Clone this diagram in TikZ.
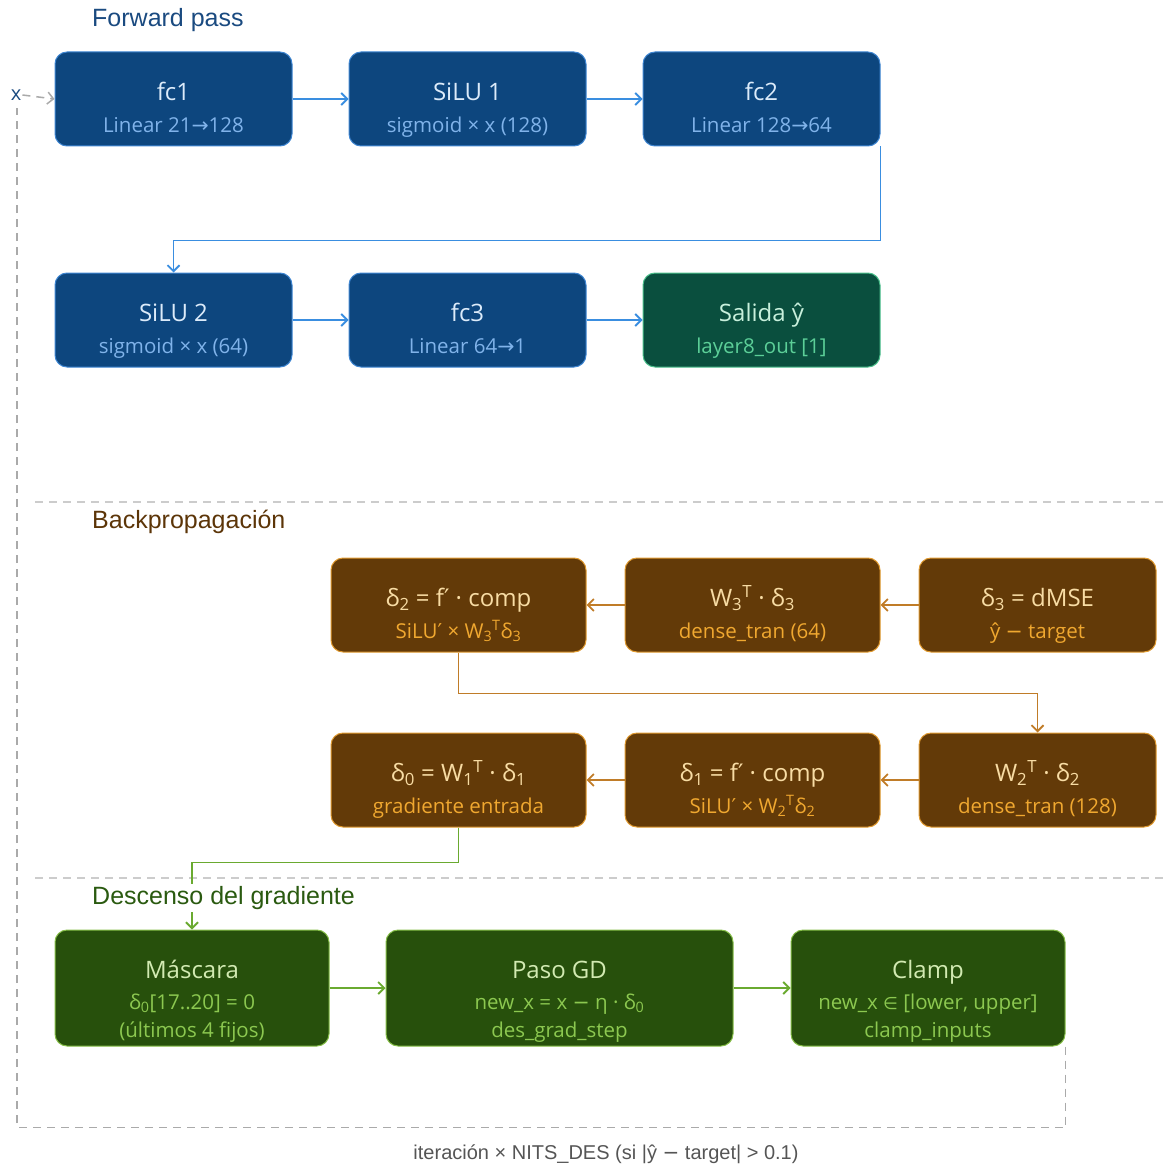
\documentclass[tikz,border=0pt]{standalone}
\usepackage{fontspec}
\setmainfont{Open Sans}
\newfontfamily\labelfont{Liberation Sans}
\newfontfamily\symf{DejaVu Sans}
\usetikzlibrary{arrows.meta,calc}

% palette
\definecolor{fwdfill}{HTML}{0D467E}
\definecolor{fwdline}{HTML}{3F86D2}
\definecolor{fwdtitle}{HTML}{DCEBFA}
\definecolor{fwdsub}{HTML}{80B3EA}
\definecolor{fwdarrow}{HTML}{3A8EE0}
\definecolor{outfill}{HTML}{0A4F3E}
\definecolor{outline}{HTML}{4CC08C}
\definecolor{outtitle}{HTML}{C8F0DC}
\definecolor{outsub}{HTML}{5CCF98}
\definecolor{bckfill}{HTML}{633A08}
\definecolor{bckline}{HTML}{E09A30}
\definecolor{bcktitle}{HTML}{F8DCA4}
\definecolor{bcksub}{HTML}{F0A830}
\definecolor{bckarrow}{HTML}{C07C28}
\definecolor{gdfill}{HTML}{27500C}
\definecolor{gdline}{HTML}{86BE48}
\definecolor{gdtitle}{HTML}{D2EAB2}
\definecolor{gdsub}{HTML}{8CC850}
\definecolor{gdarrow}{HTML}{6AAA30}
\definecolor{fwdhead}{HTML}{1A4A80}
\definecolor{bckhead}{HTML}{5C3508}
\definecolor{gdhead}{HTML}{2A5A10}
\definecolor{loopgray}{HTML}{AAAAAA}
\definecolor{sepgray}{HTML}{CCCCCC}
\definecolor{notegray}{HTML}{555555}

% text helpers
\newcommand\ra{{\symf →}}
\newcommand\pr{{\symf ′}}
\newcommand\mn{{\symf −}}
\newcommand\inset{{\symf\fontsize{17}{20}\selectfont ∈}}
\newcommand\sbs[1]{\textsubscript{#1}}
\newcommand\sps[1]{\textsuperscript{#1}}
% title line carries a tall strut so the text block sits below the box centre
\newcommand\ttl[1]{{\fontsize{24}{32}\selectfont\rule{0pt}{41pt}#1}}
\newcommand\gttl[1]{{\fontsize{24}{28}\selectfont\rule{0pt}{45.5pt}#1}}
\newcommand\sbt[1]{{\subc\fontsize{20.5}{32}\selectfont #1}}
\newcommand\sbtend[1]{{\subc\fontsize{20.5}{32}\selectfont\rule[-6pt]{0pt}{6pt}#1}}
\def\subc{}

\begin{document}
\begin{tikzpicture}[x=1pt,y=-1pt,
  box/.style={rounded corners=12pt, line width=1pt, align=center,
    inner sep=0pt, minimum height=94pt, font=\fontsize{20.5}{32}\selectfont},
  fwd/.style={box, fill=fwdfill, draw=fwdline, text=fwdtitle, minimum width=237pt,
    execute at begin node=\def\subc{\color{fwdsub}}},
  outbox/.style={box, fill=outfill, draw=outline, text=outtitle, minimum width=237pt,
    execute at begin node=\def\subc{\color{outsub}}},
  bck/.style={box, fill=bckfill, draw=bckline, text=bcktitle,
    execute at begin node=\def\subc{\color{bcksub}}},
  gd/.style={box, fill=gdfill, draw=gdline, text=gdtitle, minimum height=116pt,
    font=\fontsize{20.5}{28}\selectfont,
    execute at begin node=\def\subc{\color{gdsub}}},
  tip/.style={-{Straight Barb[length=6pt,width=12pt]}, line width=1.8pt},
  fwdconn/.style={tip, draw=fwdarrow},
  bckconn/.style={tip, draw=bckarrow},
  gdconn/.style={tip, draw=gdarrow},
  loopline/.style={draw=loopgray, line width=1.5pt, dash pattern=on 8pt off 6pt},
  sepline/.style={draw=sepgray, line width=1.1pt, dash pattern=on 8pt off 6pt},
  heading/.style={anchor=west, inner sep=2pt, font=\labelfont\fontsize{25}{28}\selectfont},
]
\useasboundingbox (0,0) rectangle (1169,1166);

% section separators
\draw[sepline] (35,502) -- (1169,502);
\draw[sepline] (35,878) -- (1169,878);

% forward pass
\node[heading, text=fwdhead] (hfwd) at (90,20) {Forward pass};
\node[fwd] (fc1)   at (173.5,99) {\ttl{fc1}\\\sbtend{Linear 21\ra128}};
\node[fwd] (silu1) at (467.5,99) {\ttl{SiLU 1}\\\sbtend{sigmoid × x (128)}};
\node[fwd] (fc2)   at (761.5,99) {\ttl{fc2}\\\sbtend{Linear 128\ra64}};
\node[fwd] (silu2) at (173.5,320) {\ttl{SiLU 2}\\\sbtend{sigmoid × x (64)}};
\node[fwd] (fc3)   at (467.5,320) {\ttl{fc3}\\\sbtend{Linear 64\ra1}};
\node[outbox] (out) at (761.5,320) {\ttl{Salida ŷ}\\\sbtend{layer8\_out [1]}};

\draw[fwdconn] (fc1.east) -- (silu1.west);
\draw[fwdconn] (silu1.east) -- (fc2.west);
\draw[fwdconn] (fc2.south east) -- ++(0,94) -| (silu2.north);
\draw[fwdconn] (silu2.east) -- (fc3.west);
\draw[fwdconn] (fc3.east) -- (out.west);

% backpropagation
\node[heading, text=bckhead] (hbck) at (90,522) {Backpropagación};
\node[bck, minimum width=255pt] (d2) at (458.5,605)
  {\ttl{δ\sbs{2} = f\pr\ · comp}\\\sbtend{SiLU\pr\ × W\sbs{3}\sps{T}δ\sbs{3}}};
\node[bck, minimum width=255pt] (w3) at (752.5,605)
  {\ttl{W\sbs{3}\sps{T} · δ\sbs{3}}\\\sbtend{dense\_tran (64)}};
\node[bck, minimum width=237pt] (d3) at (1037.5,605)
  {\ttl{δ\sbs{3} = dMSE}\\\sbtend{ŷ \mn\ target}};
\node[bck, minimum width=255pt] (d0) at (458.5,780)
  {\ttl{δ\sbs{0} = W\sbs{1}\sps{T} · δ\sbs{1}}\\\sbtend{gradiente entrada}};
\node[bck, minimum width=255pt] (d1) at (752.5,780)
  {\ttl{δ\sbs{1} = f\pr\ · comp}\\\sbtend{SiLU\pr\ × W\sbs{2}\sps{T}δ\sbs{2}}};
\node[bck, minimum width=237pt] (w2) at (1037.5,780)
  {\ttl{W\sbs{2}\sps{T} · δ\sbs{2}}\\\sbtend{dense\_tran (128)}};

\draw[bckconn] (d3.west) -- (w3.east);
\draw[bckconn] (w3.west) -- (d2.east);
\draw[bckconn] (d2.south) -- ++(0,41) -| (w2.north);
\draw[bckconn] (w2.west) -- (d1.east);
\draw[bckconn] (d1.west) -- (d0.east);

% gradient descent
\node[gd, minimum width=274pt] (mask) at (192,988)
  {\gttl{Máscara}\\[2.5pt]\sbt{δ\sbs{0}[17..20] = 0}\\\sbtend{(últimos 4 fijos)}};
\node[gd, minimum width=347pt] (paso) at (559.5,988)
  {\gttl{Paso GD}\\[2.5pt]\sbt{new\_x = x \mn\ η · δ\sbs{0}}\\\sbtend{des\_grad\_step}};
\node[gd, minimum width=274pt] (clamp) at (928,988)
  {\gttl{Clamp}\\[2.5pt]\sbt{new\_x \inset\ [lower, upper]}\\\sbtend{clamp\_inputs}};

\draw[gdconn] (d0.south) -- ++(0,35) -| (mask.north);
\node[heading, text=gdhead, fill=white] (hgd) at (90,898) {Descenso del gradiente};
\draw[gdconn] (mask.east) -- (paso.west);
\draw[gdconn] (paso.east) -- (clamp.west);

% iteration loop back to the input
\node[text=fwdhead, inner sep=1pt, font=\fontsize{20}{22}\selectfont] (xin) at (16,95) {x};
\coordinate (loopend) at (17,108);
\draw[loopline] (clamp.south east) -- ++(0,81) -| (loopend);
\draw[loopline, -{Straight Barb[length=6pt,width=12pt]}] (xin.east) -- (fc1.west);
\node[text=notegray, font=\labelfont\fontsize{20}{24}\selectfont] (note) at (606,1154)
  {iteración × NITS\_DES (si |ŷ \mn\ target| > 0.1)};
\end{tikzpicture}
\end{document}
